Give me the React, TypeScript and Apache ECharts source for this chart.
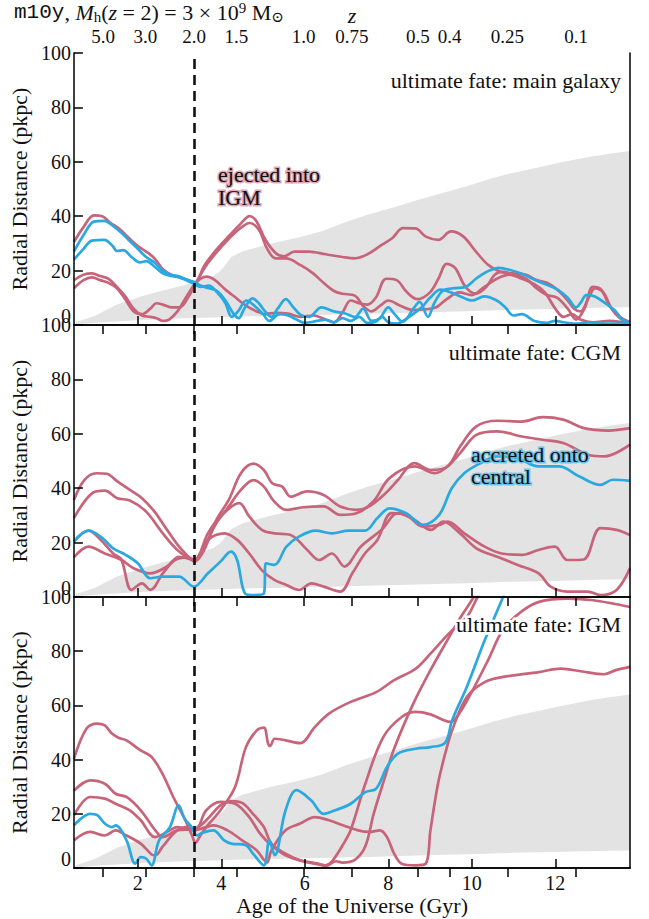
import { useEffect, useRef } from 'react';
import * as echarts from 'echarts';

// ---------- axes / ticks ----------
const T_MIN = 0.47;
const T_MAX = 13.79;
const ageTicks = [2, 4, 6, 8, 10, 12];
const zTickAges = [1.17, 2.18, 3.35, 4.36, 5.97, 7.13, 8.71, 9.47, 10.85, 12.5];
const zTickLabels = ['5.0', '3.0', '2.0', '1.5', '1.0', '0.75', '0.5', '0.4', '0.25', '0.1'];
const zTwoAge = 3.35;
const panelTitles = ['ultimate fate: main galaxy', 'ultimate fate: CGM', 'ultimate fate: IGM'];

// ---------- halo band (gray) ----------
const bandAgeUpper = [0.47, 0.77, 1.0, 1.21, 1.5, 1.8, 2.07, 2.5, 2.94, 3.4, 3.81, 3.95, 4.07, 4.24, 4.5, 5.2, 5.8, 6.41, 7.0, 7.5, 8.14, 8.7, 9.3, 9.88, 10.5, 11.0, 11.61, 12.2, 12.8, 13.3, 13.79];
const bandUpper = [0.8, 2.3, 3.5, 5.2, 7.5, 9, 10.5, 12.3, 14, 15.8, 18, 19.5, 21.5, 25, 27, 30, 32, 34.5, 38, 40.5, 43.3, 46, 48.5, 51, 54, 56, 58, 60, 61.8, 63, 64];
const bandAgeLower = [0.47, 1.0, 1.5, 2.07, 2.94, 3.81, 4.5, 5.2, 6.41, 7.5, 8.7, 9.88, 11.0, 12.2, 13.0, 13.79];
const bandLower = [0.2, 0.8, 1.3, 1.8, 2.4, 2.8, 3.1, 3.3, 3.7, 4.1, 4.6, 5.1, 5.6, 6.0, 6.3, 6.5];

// ---------- panel 1: main galaxy ----------
const p1RedA = [[0.47,30.5],[0.7,36],[0.95,40.3],[1.15,40],[1.35,37.5],[1.55,35.5],[1.75,32.5],[2.0,29],[2.2,27],[2.4,24.5],[2.6,20.5],[2.8,18.5],[3.0,17.5],[3.2,16.5],[3.36,15.5],[3.6,22],[3.9,28],[4.2,33],[4.45,37],[4.68,40],[4.85,38],[5.05,31.5],[5.3,26.5],[5.5,25.2],[5.75,27],[6.1,27],[6.5,26],[6.9,25],[7.2,24.5],[7.5,26],[7.8,29],[8.1,32],[8.35,35.6],[8.65,35.5],[8.9,32.5],[9.2,31.3],[9.5,34.4],[9.8,32.5],[10.1,27],[10.4,22],[10.7,19.5],[11.0,19],[11.3,18.5],[11.55,16.5],[11.8,15.5],[12.05,13],[12.3,9],[12.45,6],[12.6,5],[12.8,10],[12.95,13.5],[13.15,12],[13.35,6],[13.55,2.5],[13.79,1]];
const p1RedB = [[0.47,16.5],[0.7,18.5],[0.9,19],[1.1,18],[1.3,17],[1.5,14],[1.7,10.5],[1.9,6],[2.1,3.5],[2.3,3],[2.45,2.5],[2.6,1.5],[2.75,2],[2.95,5],[3.15,10],[3.36,15],[3.5,17],[3.65,17.8],[3.85,16.5],[4.1,13],[4.35,10],[4.6,7],[4.85,5],[5.05,4],[5.3,4.5],[5.6,4.2],[5.9,3],[6.2,3.5],[6.5,2],[6.7,1],[6.9,4.5],[7.1,9],[7.3,8],[7.5,7.5],[7.7,10],[7.95,17],[8.2,16.5],[8.45,12],[8.7,9.5],[9.0,12],[9.2,17],[9.4,22.5],[9.6,21],[9.85,14],[10.1,11.5],[10.35,14],[10.55,18.5],[10.75,19.5],[11.0,18.5],[11.3,17],[11.55,13.5],[11.8,11],[12.05,10],[12.3,6],[12.5,2],[12.7,6],[12.9,14],[13.1,13],[13.3,7],[13.55,3],[13.79,1]];
const p1RedC = [[0.47,13.5],[0.7,16.5],[0.9,17.5],[1.1,16.5],[1.3,15.5],[1.5,13.5],[1.7,9.5],[1.9,5],[2.1,4],[2.3,6],[2.45,8],[2.6,7.5],[2.8,6.5],[3.0,6.5],[3.2,10],[3.36,14.5],[3.6,21],[3.9,27],[4.2,32],[4.45,35.5],[4.68,37.5],[4.9,35],[5.1,28],[5.3,24.5],[5.55,24.5],[5.9,22],[6.2,19],[6.45,15.5],[6.7,12.5],[6.9,11.5],[7.2,10.8],[7.4,7],[7.6,5],[7.8,7],[8.0,9],[8.3,7],[8.6,5.5],[8.9,5.8],[9.15,6.5],[9.4,9.5],[9.7,12],[10.0,11],[10.3,14],[10.6,17],[10.9,18.5],[11.2,17],[11.5,15],[11.75,12],[12.0,6],[12.2,3],[12.4,4],[12.6,2],[12.9,1],[13.3,1.5],[13.79,0.5]];
const p1BlueD = [[0.47,27],[0.7,33],[0.95,38],[1.2,38.3],[1.4,36.5],[1.6,34],[1.8,31],[2.0,28],[2.2,25],[2.4,23],[2.6,20],[2.8,18.5],[3.0,17.8],[3.2,16.5],[3.36,15.8],[3.5,14.5],[3.7,13.5],[3.9,12.5],[4.1,9],[4.3,4],[4.42,2.5],[4.55,6],[4.75,9.8],[4.9,8],[5.05,5],[5.2,3],[5.35,6],[5.55,9.5],[5.7,7],[5.9,3.7],[6.1,3],[6.4,6.5],[6.7,5],[6.95,4.3],[7.2,3],[7.4,6],[7.6,1.5],[7.8,2.5],[8.0,6.5],[8.15,4],[8.35,1.2],[8.6,6],[8.75,8.5],[8.95,3],[9.1,8],[9.3,12.5],[9.55,13.5],[9.85,14],[10.1,17],[10.35,19.5],[10.65,21],[10.9,20.3],[11.2,18.8],[11.6,16],[12.05,13],[12.3,10],[12.5,6.5],[12.6,8],[12.75,11],[12.95,10.5],[13.2,8],[13.45,5],[13.6,2],[13.79,0.8]];
const p1BlueE = [[0.47,24],[0.7,28],[0.9,31],[1.2,31.3],[1.4,29],[1.5,27.2],[1.65,27.5],[1.85,25],[2.05,23],[2.2,23.5],[2.4,21.5],[2.6,19],[2.8,18],[3.0,17.5],[3.2,16.2],[3.36,15],[3.5,14],[3.7,14.5],[3.9,12],[4.1,8],[4.25,3],[4.4,5],[4.6,9],[4.8,7],[5.0,4],[5.15,1.5],[5.4,4],[5.6,3.5],[5.8,2],[6.0,0.8],[6.3,1.5],[6.5,2],[6.7,1],[6.9,2.5],[7.1,1.5],[7.3,3],[7.5,0.8],[7.7,1.2],[7.85,3],[8.0,1],[8.2,0.5],[8.5,3],[8.8,6.5],[9.0,10],[9.25,13],[9.5,12],[9.8,10],[10.0,9],[10.3,10.5],[10.6,9],[10.8,6.5],[11.0,3.5],[11.2,4],[11.5,1.5],[11.8,0.8],[12.0,1.5],[12.2,1],[12.5,0.5],[12.8,1],[13.2,0.5],[13.79,0.5]];

// ---------- panel 2: CGM ----------
const p2Red1 = [[0.47,35.7],[0.72,43],[1.01,45.5],[1.26,45.3],[1.51,42.5],[1.81,39.4],[2.1,36.3],[2.4,31.4],[2.7,24.7],[2.99,18.5],[3.29,13.6],[3.36,13],[3.59,17.3],[3.88,28.3],[4.18,35.7],[4.47,45.5],[4.77,49],[5.02,46.7],[5.22,41.8],[5.46,40.6],[5.66,36.9],[6.06,38.8],[6.45,37.5],[6.85,33.3],[7.24,32],[7.54,33.3],[7.94,38.2],[8.23,43],[8.63,49.2],[9.02,46.7],[9.42,48],[9.72,55.3],[10.11,62.7],[10.61,64.8],[11.2,64.5],[11.69,66.1],[12.19,65.2],[12.68,62.1],[13.28,61.2],[13.79,62.1]];
const p2Red2 = [[0.47,29],[0.91,38.2],[1.21,39.1],[1.51,36.3],[1.81,35.5],[2.2,31.4],[2.6,23.4],[2.99,16.7],[3.36,13.6],[3.59,18.5],[3.88,27.1],[4.18,33.3],[4.47,39.4],[4.77,43],[5.02,40.6],[5.27,35.1],[5.56,32],[5.96,33],[6.45,33.3],[6.85,30.2],[7.24,30.8],[7.64,35.1],[8.03,43.7],[8.63,48],[9.12,45.5],[9.42,48],[9.72,52.9],[10.11,59.6],[10.61,60.9],[11.2,59],[11.69,57.8],[12.19,56.6],[12.78,52.3],[13.18,51.7],[13.79,56]];
const p2Red3 = [[0.47,20.4],[0.82,24.4],[1.11,21],[1.41,16],[1.6,14],[1.85,2.6],[2.1,5],[2.3,2.6],[2.6,8.7],[2.89,13.6],[3.19,14.6],[3.36,13.6],[3.68,23.4],[3.98,29.6],[4.43,34.5],[4.67,29.6],[4.97,24.7],[5.27,23.4],[5.66,22.8],[6.06,17.3],[6.35,13.6],[6.65,16],[6.95,11.2],[7.34,18.5],[7.84,24.7],[8.23,30.8],[8.63,28.3],[9.02,24.7],[9.32,27.7],[9.72,23.4],[10.11,17.9],[10.61,14.8],[11.1,11.8],[11.6,8.7],[11.89,3.8],[12.29,2],[12.78,2],[13.08,0.7],[13.47,2.6],[13.79,10.6]];
const p2Red4 = [[0.47,14.6],[0.82,18.5],[1.21,16],[1.61,13.6],[1.9,10.6],[2.3,8.7],[2.7,11.2],[2.99,14.8],[3.36,13.6],[3.68,21],[4.08,23.4],[4.38,21],[4.67,16],[4.97,9.9],[5.27,6.3],[5.56,4.4],[5.86,2.6],[6.16,5],[6.45,3.8],[6.85,2],[7.14,8.7],[7.44,16],[7.74,21],[8.08,30.8],[8.43,30.2],[8.83,25.9],[9.22,26.5],[9.42,27.7],[9.82,23.4],[10.31,18.5],[10.71,16],[11.2,15.5],[11.6,17.3],[11.99,18.5],[12.29,13.6],[12.68,13.8],[13.08,25.3],[13.47,24.7],[13.79,22.8]];
const p2Blue = [[0.47,20.4],[0.82,24.4],[1.11,22.2],[1.41,17.9],[1.71,15.5],[2.0,12.4],[2.3,6.9],[2.6,7.5],[2.99,7.5],[3.34,3.8],[3.68,8.7],[3.98,13],[4.23,16.7],[4.38,13.6],[4.57,1.3],[4.77,0.7],[5.02,1.2],[5.07,12.4],[5.27,11.8],[5.56,18.5],[5.86,22.2],[6.26,24.4],[6.65,23.4],[7.05,24.4],[7.44,24.4],[7.74,29],[8.03,32.6],[8.43,30.8],[8.83,26.5],[9.22,30.2],[9.52,40],[9.82,45.5],[10.21,49.2],[10.61,51.7],[11.1,51],[11.6,48],[12.09,48],[12.58,44.3],[13.08,41.2],[13.38,43.1],[13.79,42.7]];

// ---------- panel 3: IGM ----------
const p3Red1 = [[0.47,40.3],[0.77,51.4],[1.03,53.3],[1.21,52.6],[1.38,49.6],[1.55,48],[1.73,47.1],[2.07,43.4],[2.33,41],[2.59,34.8],[2.85,26.2],[3.12,18.2],[3.3,12],[3.38,9.3],[3.5,12],[3.64,15.1],[3.98,21.3],[4.33,29.9],[4.59,44.6],[4.85,50.8],[5.02,51.8],[5.12,46],[5.17,45],[5.28,47.7],[5.54,47.1],[5.89,46.1],[6.24,52],[6.58,57],[7.1,61.3],[7.71,64.9],[8.14,69.3],[8.66,73.6],[9.01,79.1],[9.45,86.5],[9.88,92.6],[10.14,100],[10.3,104]];
const p3Red2 = [[0.47,28.5],[0.86,32.3],[1.21,31.1],[1.47,27.4],[1.73,26.2],[2.07,21.3],[2.42,13.9],[2.59,11.4],[2.94,13.9],[3.36,14.5],[3.64,17.6],[3.98,23.1],[4.24,24.7],[4.5,24],[4.76,20],[5.02,15.1],[5.2,9],[5.54,5.3],[5.89,2.8],[6.24,1.6],[6.5,1],[6.67,2.8],[6.93,9],[7.1,14],[7.45,31.1],[7.88,48.3],[8.32,55.7],[8.66,57.6],[9.01,56.7],[9.49,53.9],[9.7,57],[10.0,65],[10.4,77],[10.75,88],[11.18,94.5],[11.61,98.2],[12.31,99.4],[12.91,98.8],[13.4,97.5],[13.79,96.3]];
const p3Red3 = [[0.47,19.4],[0.86,26.2],[1.21,25.6],[1.47,23.7],[1.81,21.3],[2.07,17.6],[2.42,11.4],[2.77,13.9],[2.94,15.1],[3.36,13.9],[3.64,21.3],[3.98,24.4],[4.33,23.7],[4.67,18.8],[4.93,12.7],[5.2,8.4],[5.54,4.7],[5.89,2.8],[6.32,1.6],[6.5,0.8],[6.75,2.5],[6.9,2],[7.2,3],[7.45,8],[7.65,20],[7.9,32.5],[8.14,44],[8.58,60],[9.01,73],[9.45,85],[9.71,92],[10.05,100],[10.2,104]];
const p3Red4 = [[0.47,10.2],[0.86,13.3],[1.21,12],[1.47,13.9],[1.73,12],[2.07,9],[2.33,5],[2.42,4.7],[2.6,8],[2.94,13.9],[3.2,15.1],[3.36,14],[3.64,15.1],[3.81,15.7],[4.15,13.9],[4.5,10.2],[4.85,6.5],[5.02,3],[5.1,2],[5.2,6.5],[5.54,13.9],[5.89,16.4],[6.24,18.8],[6.58,17.6],[6.93,15.7],[7.28,13.9],[7.54,13.3],[7.8,13.9],[7.97,11.4],[8.14,5.3],[8.32,1.6],[8.66,1],[8.9,1.6],[9.01,13.9],[9.19,31],[9.36,42],[9.53,50.8],[9.88,63.1],[10.31,68.6],[10.75,70.5],[11.61,72.3],[12.13,73.6],[12.65,72.5],[13.17,71.5],[13.45,73],[13.79,74.2]];
const p3Blue = [[0.47,15.7],[0.86,20],[1.03,19.5],[1.21,16.4],[1.38,15.1],[1.47,15.7],[1.73,10.2],[1.94,1.6],[2.07,4],[2.2,3.5],[2.33,1],[2.51,10.2],[2.77,15.1],[2.98,23.1],[3.12,18.2],[3.29,15.1],[3.42,12],[3.55,13],[3.81,13.9],[4.07,10.2],[4.24,9],[4.59,8.4],[4.76,5.3],[5.02,1],[5.15,10.2],[5.28,4.7],[5.54,21.3],[5.8,28.7],[6.15,25],[6.45,20],[6.76,21.5],[7.1,23.7],[7.45,28],[7.71,29.3],[7.97,37.3],[8.23,42.2],[8.66,44],[9.01,44.6],[9.36,46.2],[9.53,54.5],[9.88,66.8],[10.31,84],[10.75,100],[10.85,104]];

const panelReds = [[p1RedA, p1RedB, p1RedC], [p2Red1, p2Red2, p2Red3, p2Red4], [p3Red1, p3Red2, p3Red3, p3Red4]];
const panelBlues = [[p1BlueD, p1BlueE], [p2Blue], [p3Blue]];

// ---------- styling ----------
const RED = '#c8647a';
const BLUE = '#2aa9e1';
const GRAY = '#e3e3e3';
const SERIF = 'Liberation Serif, DejaVu Serif, serif';
const MONO = 'Liberation Mono, DejaVu Sans Mono, monospace';
const GRID_TOPS = [53, 325, 597];
const GRID_HEIGHTS = [272, 272, 271];
const GRID_LEFT = 72;
const GRID_WIDTH = 558;

function haloText(text: string, x: number, y: number, halo: string, haloWidth: number, extra: any) {
  return [
    {
      type: 'text', x, y, z: 9, silent: true,
      style: { text, fontFamily: SERIF, fontSize: 22, fill: halo, stroke: halo, lineWidth: haloWidth, ...extra },
    },
    {
      type: 'text', x, y, z: 10, silent: true,
      style: { text, fontFamily: SERIF, fontSize: 22, fill: '#111', ...extra },
    },
  ];
}

function buildOption() {
  const grid = GRID_TOPS.map((top, i) => ({ left: GRID_LEFT, top, width: GRID_WIDTH, height: GRID_HEIGHTS[i] }));
  const xAxis: any[] = [];
  const yAxis: any[] = [];
  const series: any[] = [];
  const axisLine = { show: true, lineStyle: { color: '#000', width: 1.5 } };

  for (let i = 0; i < 3; i++) {
    xAxis.push({
      type: 'value', gridIndex: i, position: 'bottom', min: T_MIN, max: T_MAX, z: 6,
      axisLine,
      axisTick: { show: true, inside: true, length: 9, customValues: ageTicks, lineStyle: { color: '#000', width: 1.5 } },
      axisLabel: { show: i === 2, customValues: ageTicks, margin: 5, fontSize: 20, color: '#111', fontFamily: SERIF },
      splitLine: { show: false },
      name: i === 2 ? 'Age of the Universe (Gyr)' : '',
      nameLocation: 'middle', nameGap: 26,
      nameTextStyle: { fontSize: 22, color: '#111', fontFamily: SERIF },
    });
    xAxis.push({
      type: 'value', gridIndex: i, position: 'top', min: T_MIN, max: T_MAX, z: 6,
      axisLine,
      axisTick: { show: true, inside: true, length: 9, customValues: zTickAges, lineStyle: { color: '#000', width: 1.5 } },
      axisLabel: {
        show: i === 0, customValues: zTickAges, margin: 7, fontSize: 19, color: '#111', fontFamily: SERIF,
        formatter: (v: number) => { const k = zTickAges.indexOf(v); return k >= 0 ? zTickLabels[k] : ''; },
      },
      splitLine: { show: false },
      name: i === 0 ? 'z' : '',
      nameLocation: 'middle', nameGap: 22,
      nameTextStyle: { fontSize: 22, color: '#111', fontFamily: SERIF, fontStyle: 'italic' },
    });
    yAxis.push({
      type: 'value', gridIndex: i, position: 'left', min: 0, max: 100, interval: 20, z: 6,
      axisLine,
      axisTick: { show: true, inside: true, length: 9, lineStyle: { color: '#000', width: 1.5 } },
      axisLabel: {
        margin: 3, fontSize: 20, color: '#111', fontFamily: SERIF,
        formatter: (v: number) => (v === 0 ? '{z|0}' : String(v)),
        rich: { z: { fontSize: 20, fontFamily: SERIF, color: '#111', padding: [0, 0, 19, 0] } },
      },
      splitLine: { show: false },
      name: 'Radial Distance (pkpc)', nameLocation: 'middle', nameGap: 31,
      nameTextStyle: { fontSize: 22, color: '#111', fontFamily: SERIF },
    });
    yAxis.push({
      type: 'value', gridIndex: i, position: 'right', min: 0, max: 100, z: 6,
      axisLine, axisTick: { show: false }, axisLabel: { show: false }, splitLine: { show: false },
    });

    const xi = 2 * i;
    const yi = 2 * i;
    series.push({
      type: 'line', xAxisIndex: xi, yAxisIndex: yi, z: 1, silent: true, symbol: 'none',
      data: bandAgeUpper.map((t, k) => [t, bandUpper[k]]),
      lineStyle: { width: 0, color: GRAY }, areaStyle: { color: GRAY, opacity: 1 },
    });
    series.push({
      type: 'line', xAxisIndex: xi, yAxisIndex: yi, z: 1, silent: true, symbol: 'none',
      data: bandAgeLower.map((t, k) => [t, bandLower[k]]),
      lineStyle: { width: 0, color: '#fff' }, areaStyle: { color: '#fff', opacity: 1 },
    });
    panelReds[i].forEach((d) => series.push({
      type: 'line', xAxisIndex: xi, yAxisIndex: yi, z: 3, symbol: 'none', smooth: 0.35, clip: true,
      data: d, lineStyle: { color: RED, width: 2.7 },
    }));
    panelBlues[i].forEach((d) => series.push({
      type: 'line', xAxisIndex: xi, yAxisIndex: yi, z: 3, symbol: 'none', smooth: 0.35, clip: true,
      data: d, lineStyle: { color: BLUE, width: 2.7 },
    }));
    series.push({
      type: 'line', xAxisIndex: xi, yAxisIndex: yi, z: 4, symbol: 'none', data: [],
      markLine: {
        silent: true, symbol: 'none', label: { show: false },
        lineStyle: { color: '#111', width: 2.6, type: [10, 6] },
        data: [{ xAxis: zTwoAge }],
      },
    });
  }

  const graphic: any[] = [
    {
      type: 'text', left: 14, top: 0, z: 10,
      style: {
        text: '{m|m10y}{s|, }{i|M}{sb|h}{s|(}{i|z}{s| = 2) = 3 × 10}{sp|9}{s| M}{sb|⊙}',
        rich: {
          m: { fontFamily: MONO, fontSize: 21, fill: '#111' },
          s: { fontFamily: SERIF, fontSize: 22, fill: '#111' },
          i: { fontFamily: SERIF, fontSize: 22, fontStyle: 'italic', fill: '#111' },
          sb: { fontFamily: SERIF, fontSize: 15, fill: '#111', padding: [9, 0, 0, 0] },
          sp: { fontFamily: SERIF, fontSize: 15, fill: '#111', padding: [0, 0, 10, 0] },
        },
      },
    },
    ...haloText('ejected into\nIGM', 218, 163, 'rgba(214,140,158,0.75)', 3, { lineHeight: 23 }),
    ...haloText('accreted onto\ncentral', 471, 443, 'rgba(90,190,235,0.85)', 3, { lineHeight: 22 }),
  ];
  GRID_TOPS.forEach((top, i) => {
    graphic.push(...haloText(panelTitles[i], 621, top + 16, '#fff', 5, { align: 'right' }));
  });

  return { animation: false, backgroundColor: '#fff', grid, xAxis, yAxis, series, graphic };
}

export default function App() {
  const ref = useRef<HTMLDivElement>(null);
  useEffect(() => {
    if (!ref.current) return;
    const chart = echarts.init(ref.current, null, { renderer: 'svg' });
    chart.setOption(buildOption() as any);
    return () => chart.dispose();
  }, []);
  return (
    <div
      ref={ref}
      style={{ position: 'absolute', left: 0, top: 0, width: 649, height: 919, background: '#fff' }}
    />
  );
}
